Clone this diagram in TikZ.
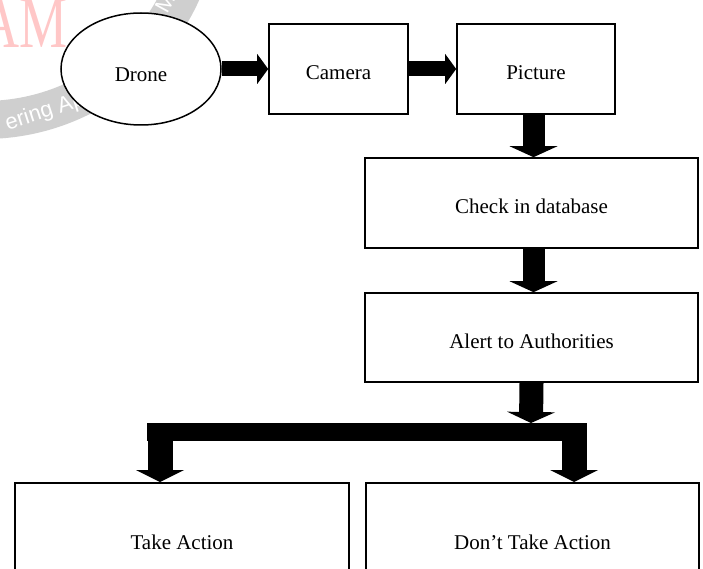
\documentclass[tikz,border=0pt]{standalone}
\usepackage{fontspec}
\setmainfont{Liberation Serif}
\newfontfamily\wmsans{Liberation Sans}
\usetikzlibrary{arrows.meta,shapes.geometric,calc}
\begin{document}
\begin{tikzpicture}[x=1pt,y=-1pt,
  txt/.style={font=\fontsize{21}{25}\selectfont, text height=22pt, text depth=0pt},
  box/.style={txt, draw, line width=1.6pt, rectangle, inner sep=0pt},
  blockh/.style={line width=15pt, -{Triangle[width=30pt,length=11pt,line width=0pt]}},
  blockv/.style={line width=22pt, -{Triangle[width=48pt,length=11pt,line width=0pt]}},
  legarrow/.style={line width=25pt, -{Triangle[width=48pt,length=12pt,line width=0pt]}},
]
\useasboundingbox (0,0) rectangle (703,569);
\fill[white] (0,0) rectangle (703,569);
\clip (0,0) rectangle (703,569);

% watermark
\fill[black!19, even odd rule] (-16,-97) circle[radius=236] (-16,-97) circle[radius=198];
\node[white, font=\wmsans\fontsize{22}{24}\selectfont, rotate=18] (wm1) at (45,112) {ering Ap};
\node[white, font=\wmsans\fontsize{22}{24}\selectfont, rotate=61] (wm2) at (165,3) {M};
\node[red!22, font=\fontsize{74}{80}\selectfont, anchor=base east, xscale=0.73, inner sep=0pt] (wm3) at (68,48) {AM};

% nodes
\node[txt, draw, ellipse, line width=1.5pt, fill=white, minimum width=160pt, minimum height=112pt, inner sep=0pt, text height=26pt] (drone) at (141,69) {Drone};
\node[box, minimum width=139pt, minimum height=90pt] (cam) at (338.5,69) {Camera};
\node[box, minimum width=158pt, minimum height=90pt] (pic) at (536,69) {Picture};
\node[box, minimum width=333pt, minimum height=90pt] (check) at (531.5,203) {Check in database};
\node[box, minimum width=333pt, minimum height=89pt] (alert) at (531.5,337.5) {Alert to Authorities};
\node[box, minimum width=334pt, minimum height=110pt] (take) at (182,538) {Take Action};
\node[box, minimum width=333pt, minimum height=110pt] (dont) at (532.5,538) {Don’t Take Action};

% connectors
\draw[blockh] (drone.east) -- (cam.west);
\draw[blockh] (cam.east) -- (pic.west);
\draw[blockv] ($(pic.south)+(-2.5,0)$) -- ($(pic.south |- check.north)+(-2.5,0)$);
\draw[blockv] ($(check.south)+(2,0)$) -- ($(alert.north)+(2,0)$);
\coordinate (split) at (531,423);
\draw[blockv, line width=24pt] (alert.south) -- (split);
\fill (147,423) rectangle (586,441);
\coordinate (jl) at (160,482);
\coordinate (jr) at (574,482);
\draw[legarrow] (jl |- split) -- (jl);
\draw[legarrow] (jr |- split) -- (jr);
\end{tikzpicture}
\end{document}
